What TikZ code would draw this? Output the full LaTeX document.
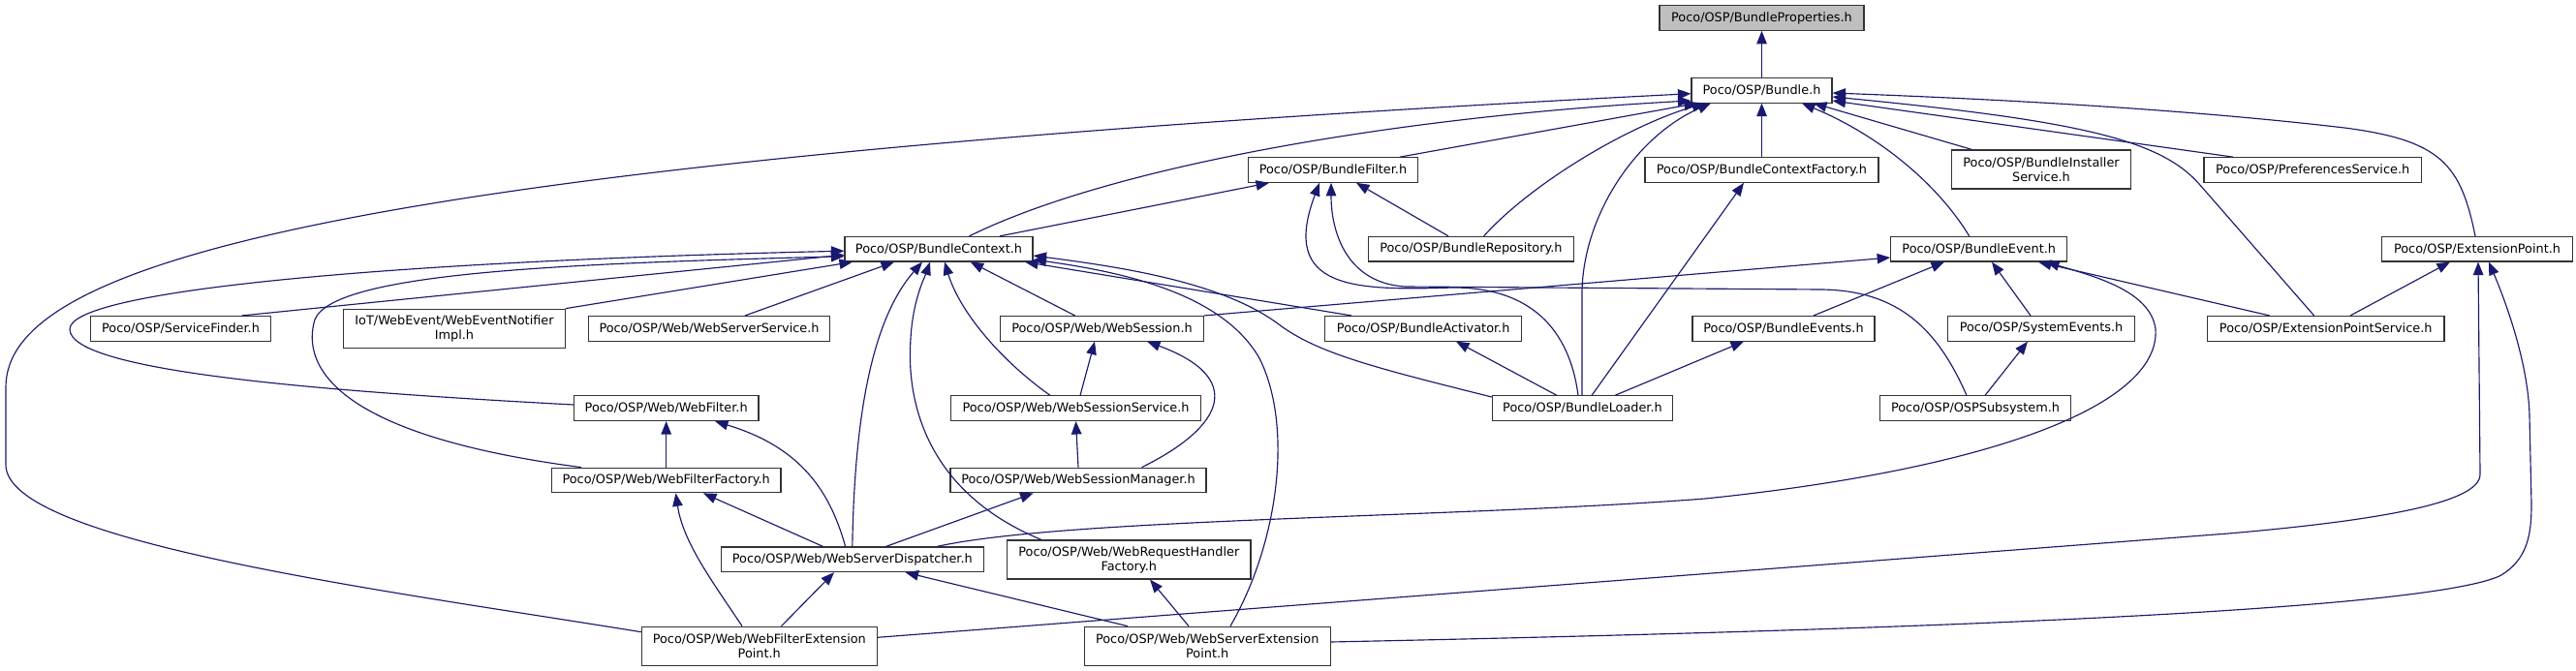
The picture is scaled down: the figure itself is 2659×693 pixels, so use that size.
\documentclass[tikz,border=0pt]{standalone}
\usepackage{fontspec}
\setmainfont{DejaVu Sans}
\usetikzlibrary{arrows.meta}
\definecolor{edgecol}{HTML}{191970}
\definecolor{propsfill}{HTML}{BFBFBF}
\definecolor{boxline}{HTML}{333333}
\begin{document}
\begin{tikzpicture}[x=1pt,y=-1pt,
  box/.style={draw=boxline, line width=1.1pt, fill=white, inner sep=0pt, minimum height=25.6pt, font=\fontsize{12.85}{15}\selectfont, align=center},
  boxtwo/.style={box, minimum height=40pt},
  inc/.style={draw=edgecol, line width=1.15pt, -{Triangle[length=13.5pt,width=10.5pt]}}]
\useasboundingbox (0,0) rectangle (2659,693);
% nodes
\node[box, fill=propsfill, minimum width=211pt] (props) at (1818.5,18.5) {Poco/OSP/BundleProperties.h};
\node[box, minimum width=145pt] (bundle) at (1818.5,93.3) {Poco/OSP/Bundle.h};
\node[box, minimum width=174.5pt] (bfilter) at (1376,175.5) {Poco/OSP/BundleFilter.h};
\node[box, minimum width=241pt] (bcfactory) at (1818.5,175.5) {Poco/OSP/BundleContextFactory.h};
\node[boxtwo, minimum width=185.4pt] (binstaller) at (2107,175) {Poco/OSP/BundleInstaller\\Service.h};
\node[box, minimum width=224.4pt] (prefs) at (2387.2,175.5) {Poco/OSP/PreferencesService.h};
\node[box, minimum width=194pt] (bcontext) at (969,257.2) {Poco/OSP/BundleContext.h};
\node[box, minimum width=211.3pt] (brepo) at (1518.4,257.2) {Poco/OSP/BundleRepository.h};
\node[box, minimum width=182pt] (bevent) at (2042.7,257.2) {Poco/OSP/BundleEvent.h};
\node[box, minimum width=197pt] (extpoint) at (2557,257.2) {Poco/OSP/ExtensionPoint.h};
\node[box, minimum width=185.6pt] (sfinder) at (186.5,339.3) {Poco/OSP/ServiceFinder.h};
\node[boxtwo, minimum width=228.4pt] (webevent) at (469,339.2) {IoT/WebEvent/WebEventNotifier\\Impl.h};
\node[box, minimum width=249pt] (wsservice) at (732,339.3) {Poco/OSP/Web/WebServerService.h};
\node[box, minimum width=209.5pt] (wsession) at (1137.5,339.3) {Poco/OSP/Web/WebSession.h};
\node[box, minimum width=203pt] (bactivator) at (1469.2,339.3) {Poco/OSP/BundleActivator.h};
\node[box, minimum width=188pt] (bevents) at (1841,339.3) {Poco/OSP/BundleEvents.h};
\node[box, minimum width=192.3pt] (sysevents) at (2107,339.3) {Poco/OSP/SystemEvents.h};
\node[box, minimum width=244.5pt] (epservice) at (2400.7,339.3) {Poco/OSP/ExtensionPointService.h};
\node[box, minimum width=190.6pt] (wfilter) at (687.7,421.7) {Poco/OSP/Web/WebFilter.h};
\node[box, minimum width=257.8pt] (wsessservice) at (1110.5,421.7) {Poco/OSP/Web/WebSessionService.h};
\node[box, minimum width=186.5pt] (bloader) at (1633.5,421.7) {Poco/OSP/BundleLoader.h};
\node[box, minimum width=197.4pt] (ospsub) at (2039,421.7) {Poco/OSP/OSPSubsystem.h};
\node[box, minimum width=236.5pt] (wffactory) at (687.7,496) {Poco/OSP/Web/WebFilterFactory.h};
\node[box, minimum width=264pt] (wsmanager) at (1113,496) {Poco/OSP/Web/WebSessionManager.h};
\node[box, minimum width=271pt] (wsdispatch) at (879.8,577.8) {Poco/OSP/Web/WebServerDispatcher.h};
\node[boxtwo, minimum width=251.4pt] (wrhfactory) at (1165.3,578) {Poco/OSP/Web/WebRequestHandler\\Factory.h};
\node[boxtwo, minimum width=243pt] (wfext) at (783.8,667.2) {Poco/OSP/Web/WebFilterExtension\\Point.h};
\node[boxtwo, minimum width=253.7pt] (wsext) at (1246.2,667.2) {Poco/OSP/Web/WebServerExtension\\Point.h};
% to props
\draw[inc] (bundle.north) -- (props.south);
% to bundle
\draw[inc] (bcfactory.north) -- (bundle.south);
\draw[inc] ([xshift=31.5pt]bcontext.north) .. controls (1150,170) and (1450,120) .. ([yshift=-10.7pt]bundle.west);
\draw[inc] ([xshift=69pt]bfilter.north) -- ([xshift=-66.5pt]bundle.south);
\draw[inc] ([xshift=13.2pt]brepo.north) .. controls (1580,190) and (1680,130) .. ([xshift=-58.5pt]bundle.south);
\draw[inc] ([xshift=-0.5pt]bloader.north) -- (1633,300) .. controls (1635,220) and (1690,140) .. ([xshift=-52.5pt]bundle.south);
\draw[inc] ([xshift=-10pt]bevent.north) .. controls (2000,190) and (1940,140) .. ([xshift=41.5pt]bundle.south);
\draw[inc] ([xshift=-71.5pt]binstaller.north) -- ([xshift=53.5pt]bundle.south);
\draw[inc] ([xshift=-82.2pt]prefs.north) -- ([yshift=-10.7pt]bundle.east);
\draw[inc] ([xshift=-12.1pt]epservice.north) -- (2270,190) .. controls (2230,145) and (2150,125) .. ([yshift=-6.7pt]bundle.east);
\draw[inc] ([xshift=-2pt]extpoint.north) .. controls (2540,170) and (2520,145) .. (2420,132) .. controls (2250,112) and (2050,102) .. ([yshift=-2.7pt]bundle.east);
\draw[inc] ([yshift=14.5pt]wfext.west) .. controls (400,610) and (6,560) .. (6,480) -- (6,400) .. controls (6,280) and (300,170) .. ([yshift=-3.4pt]bundle.west);
% to bfilter
\draw[inc] ([xshift=63pt]bcontext.north) -- ([xshift=-66pt]bfilter.south);
\draw[inc] ([xshift=-23.4pt]brepo.north) -- ([xshift=24pt]bfilter.south);
\draw[inc] ([xshift=-4.5pt]bloader.north) .. controls (1620,340) and (1580,297) .. (1500,297) .. controls (1400,300) and (1320,300) .. ([xshift=-14pt]bfilter.south);
\draw[inc] ([xshift=-9pt]ospsub.north) .. controls (2000,340) and (1960,300) .. (1880,299) -- (1450,296) .. controls (1390,292) and (1374,240) .. ([xshift=-2pt]bfilter.south);
% to bcontext
\draw[inc] ([xshift=63.2pt]sfinder.north) -- ([yshift=-6pt]bcontext.west);
\draw[inc] ([yshift=3.7pt]wfilter.west) .. controls (350,405) and (72,385) .. (72,340) .. controls (72,300) and (400,270) .. ([yshift=-2pt]bcontext.west);
\draw[inc] ([xshift=-87.7pt]wffactory.north) .. controls (350,450) and (310,380) .. (325,330) .. controls (345,280) and (600,272) .. ([yshift=-7.5pt]bcontext.west);
\draw[inc] (webevent.north east) -- ([xshift=-89pt]bcontext.south);
\draw[inc] ([xshift=37pt]wsservice.north) -- ([xshift=-46pt]bcontext.south);
\draw[inc] (wsdispatch.north) .. controls (882,430) and (900,330) .. ([xshift=-17pt]bcontext.south);
\draw[inc] ([xshift=-90.3pt]wrhfactory.north) .. controls (960,510) and (935,420) .. (940,350) .. controls (942,310) and (955,285) .. ([xshift=-9pt]bcontext.south);
\draw[inc] ([xshift=-26.5pt]wsessservice.north) .. controls (1030,370) and (990,320) .. ([xshift=6pt]bcontext.south);
\draw[inc] ([xshift=-27.9pt]wsession.north) -- ([xshift=32.7pt]bcontext.south);
\draw[inc] ([xshift=-74.2pt]bactivator.north) -- ([xshift=89pt]bcontext.south);
\draw[inc] ([yshift=11.7pt]bloader.west) .. controls (1420,380) and (1360,365) .. (1320,335) .. controls (1260,290) and (1150,275) .. ([yshift=-6.8pt]bcontext.east);
\draw[inc] ([xshift=23.8pt]wsext.north) .. controls (1320,560) and (1335,440) .. (1300,370) .. controls (1260,300) and (1150,280) .. ([yshift=-10.8pt]bcontext.east);
% to bevent
\draw[inc] (wsession.north east) -- ([yshift=-8.8pt]bevent.west);
\draw[inc] ([xshift=31pt]bevents.north) -- ([xshift=-35.7pt]bevent.south);
\draw[inc] ([xshift=-11pt]sysevents.north) -- ([xshift=13.3pt]bevent.south);
\draw[inc] ([xshift=-58pt]epservice.north) -- ([xshift=61.3pt]bevent.south);
\draw[inc] ([xshift=87.2pt]wsdispatch.north) .. controls (1100,535) and (1500,535) .. (1760,515) .. controls (2050,485) and (2230,420) .. (2225,340) .. controls (2220,300) and (2160,285) .. ([xshift=69.3pt]bevent.south);
% to extpoint
\draw[inc] ([xshift=25.3pt]epservice.north) -- ([xshift=-28pt]extpoint.south);
\draw[inc] ([yshift=8.9pt]wfext.east) -- (2300,551) .. controls (2450,538) and (2560,520) .. (2560,490) -- ([xshift=1pt]extpoint.south);
\draw[inc] ([yshift=4.2pt]wsext.east) .. controls (2000,650) and (2500,630) .. (2580,595) .. controls (2610,578) and (2613,550) .. (2613,520) -- (2611,430) .. controls (2610,380) and (2590,320) .. ([xshift=12pt]extpoint.south);
% to wfilter
\draw[inc] (wffactory.north) -- (wfilter.south);
\draw[inc] ([xshift=-7.2pt]wsdispatch.north) .. controls (855,500) and (820,460) .. ([xshift=50.3pt]wfilter.south);
% to wffactory
\draw[inc] ([xshift=-30.2pt]wsdispatch.north) -- ([xshift=38.3pt]wffactory.south);
\draw[inc] ([xshift=-17.8pt]wfext.north) .. controls (735,600) and (705,560) .. ([xshift=9.8pt]wffactory.south);
% to wsdispatch
\draw[inc] ([xshift=22.7pt]wfext.north) -- ([xshift=-18.8pt]wsdispatch.south);
\draw[inc] ([xshift=-82.2pt]wsext.north) -- ([xshift=54.7pt]wsdispatch.south);
% to wrhfactory
\draw[inc] ([xshift=-19.2pt]wsext.north) -- ([xshift=21.7pt]wrhfactory.south);
% to wsmanager
\draw[inc] ([xshift=34.6pt]wsdispatch.north) -- ([xshift=-46.4pt]wsmanager.south);
% to wsessservice
\draw[inc] (wsmanager.north) -- (wsessservice.south);
% to wsession
\draw[inc] ([xshift=65.5pt]wsmanager.north) .. controls (1265,440) and (1285,390) .. ([xshift=46.5pt]wsession.south);
\draw[inc] ([xshift=4.5pt]wsessservice.north) -- ([xshift=-7.5pt]wsession.south);
% from bloader / ospsub
\draw[inc] ([xshift=-26.5pt]bloader.north) -- ([xshift=33.8pt]bactivator.south);
\draw[inc] ([xshift=9.5pt]bloader.north) -- ([xshift=-18.5pt]bcfactory.south);
\draw[inc] ([xshift=33.5pt]bloader.north) -- ([xshift=-41pt]bevents.south);
\draw[inc] ([xshift=10pt]ospsub.north) -- ([xshift=-14pt]sysevents.south);
\end{tikzpicture}
\end{document}
